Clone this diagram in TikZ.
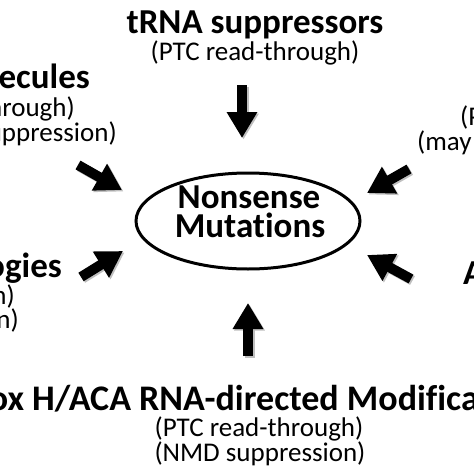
\documentclass[tikz,border=0pt]{standalone}
\usepackage{fontspec}
\setmainfont{Carlito}[Ligatures=NoCommon]
\usetikzlibrary{arrows.meta,shapes.geometric}
\newlength{\boxw}
\begin{document}
\settowidth{\boxw}{\fontsize{36}{30}\selectfont\bfseries Box }
\begin{tikzpicture}[x=1pt,y=-1pt,
  ttl/.style={inner sep=0pt,font=\fontsize{35}{30}\selectfont\bfseries},
  sub/.style={inner sep=0pt,font=\fontsize{27}{25}\selectfont},
  bigarrow/.style={line width=10pt,-{Triangle[width=29pt,length=26pt]}},
  arrowshade/.style={bigarrow,draw=black!25,transform canvas={shift={(1.5pt,-1.5pt)}}},
  oval/.style={draw,line width=3pt,ellipse,minimum width=224pt,minimum height=96pt,inner sep=0pt}]
\useasboundingbox (0,0) rectangle (474,474);
\clip (0,0) rectangle (474,474);
\fill[white] (0,0) rectangle (474,474);
% centre
\node[oval] (nm) at (248,221) {};
\node[ttl,anchor=base] (nm1) at (249,208) {Nonsense};
\node[ttl,anchor=base] (nm2) at (250,237) {Mutations};
% top
\node[ttl,anchor=base] (trna) at (255,33) {tRNA suppressors};
\node[sub,anchor=base] (trnas) at (255,60) {(PTC read-through)};
% left top
\node[ttl,anchor=base east] (sm) at (90,88) {Small molecules};
\node[sub,anchor=base east] (sm1) at (75,116) {(PTC read-through)};
\node[sub,anchor=base east] (sm2) at (117,141) {(NMD suppression)};
% left bottom
\node[ttl,anchor=base east] (gt) at (62,277) {Gene technologies};
\node[sub,anchor=base east] (gt1) at (15,304) {(gene correction)};
\node[sub,anchor=base east] (gt2) at (19,328) {(NMD suppression)};
% right top
\node[sub,anchor=base west] (rt1) at (460,125) {(PTC read-through)};
\node[sub,anchor=base west] (rt2) at (417,150) {(may suppress NMD)};
% right bottom
\node[ttl,anchor=base west] (rb) at (463,284) {Antisense};
% bottom
\node[ttl,font=\fontsize{36}{30}\selectfont\bfseries,anchor=base west,xshift=-\boxw] (box) at (32,410) {Box H/ACA RNA-directed Modification};
\node[sub,anchor=base] (box1) at (259,436) {(PTC read-through)};
\node[sub,anchor=base] (box2) at (260,461) {(NMD suppression)};
% arrows
\coordinate (at0) at (242,85);  \coordinate (at1) at (242,138);
\coordinate (ab0) at (248,356); \coordinate (ab1) at (248,303);
\coordinate (alt0) at (78,165); \coordinate (alt1) at (122,190);
\coordinate (alb0) at (81,277); \coordinate (alb1) at (123,251);
\coordinate (art0) at (409,169); \coordinate (art1) at (367,193);
\coordinate (arb0) at (411,279); \coordinate (arb1) at (367,255);
\foreach \a in {at,ab,alt,alb,art,arb}{
  \draw[arrowshade] (\a0) -- (\a1);
  \draw[bigarrow] (\a0) -- (\a1);
}
\end{tikzpicture}
\end{document}
